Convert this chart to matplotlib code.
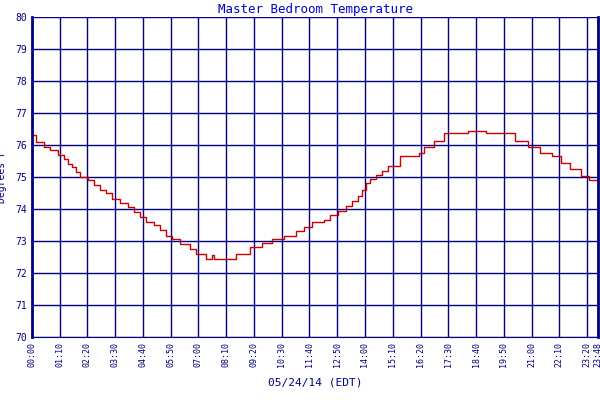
import numpy as np
import matplotlib.pyplot as plt

# minutes since midnight and temperature (F)
minutes = [0, 10, 30, 45, 66, 81, 91, 101, 111, 121, 141, 156, 172, 187, 202, 222,
           242, 257, 272, 288, 308, 323, 338, 353, 373, 399, 414, 439, 454, 459,
           515, 550, 580, 606, 636, 666, 686, 706, 737, 752, 772, 792, 807, 822,
           833, 843, 853, 868, 883, 898, 928, 975, 989, 1013, 1038, 1101, 1146,
           1217, 1252, 1282, 1311, 1335, 1357, 1385, 1406, 1428]
temps = [76.3, 76.1, 75.95, 75.85, 75.7, 75.55, 75.4, 75.3, 75.15, 75.0, 74.9, 74.75,
         74.6, 74.5, 74.3, 74.2, 74.05, 73.9, 73.75, 73.6, 73.5, 73.35, 73.15, 73.05,
         72.9, 72.75, 72.6, 72.45, 72.55, 72.45, 72.6, 72.8, 72.95, 73.05, 73.15,
         73.3, 73.45, 73.6, 73.65, 73.8, 73.95, 74.1, 74.25, 74.4, 74.6, 74.8, 74.95,
         75.05, 75.2, 75.35, 75.65, 75.75, 75.94, 76.13, 76.37, 76.45, 76.37,
         76.13, 75.94, 75.75, 75.65, 75.43, 75.24, 75.03, 74.91, 74.91]

tick_labels = ['00:00', '01:10', '02:20', '03:30', '04:40', '05:50', '07:00', '08:10',
               '09:20', '10:30', '11:40', '12:50', '14:00', '15:10', '16:20', '17:30',
               '18:40', '19:50', '21:00', '22:10', '23:20', '23:48']

navy = '#000080'
plt.rcParams['font.family'] = 'DejaVu Sans Mono'

fig = plt.figure(figsize=(6, 4), dpi=100)
ax = fig.add_axes([0.053, 0.1575, 0.944, 0.8])

ticks = [int(t[:2]) * 60 + int(t[3:]) for t in tick_labels]
ax.plot(minutes, temps, color='#cc0000', lw=1, drawstyle='steps-post')

ax.set_xlim(0, 1428)
ax.set_ylim(70, 80)
ax.set_xticks(ticks)
ax.set_xticklabels(tick_labels, rotation=90, fontsize=6, color=navy)
ax.set_yticks(np.arange(70, 81, 1))
ax.tick_params(axis='y', labelsize=7, colors=navy, length=0)
ax.tick_params(axis='x', length=0, colors=navy)
ax.grid(True, color=navy, lw=1)
ax.spines['top'].set_visible(False)
ax.spines['left'].set_color(navy)
ax.spines['left'].set_linewidth(2)
ax.spines['right'].set_color(navy)
ax.spines['right'].set_linewidth(2)
ax.spines['bottom'].set_color(navy)

ax.set_title('Master Bedroom Temperature', fontsize=9, color='#0000cc', pad=3)
ax.set_ylabel('Degrees F', fontsize=7, color=navy, labelpad=6)
ax.set_xlabel('05/24/14 (EDT)', fontsize=8, color=navy, labelpad=8)

ax.legend(['MB Temp'], loc='upper center', bbox_to_anchor=(0.5, -0.25), frameon=False,
          fontsize=5, labelcolor=navy, handlelength=1.5)

plt.savefig('out.png', dpi=100)
